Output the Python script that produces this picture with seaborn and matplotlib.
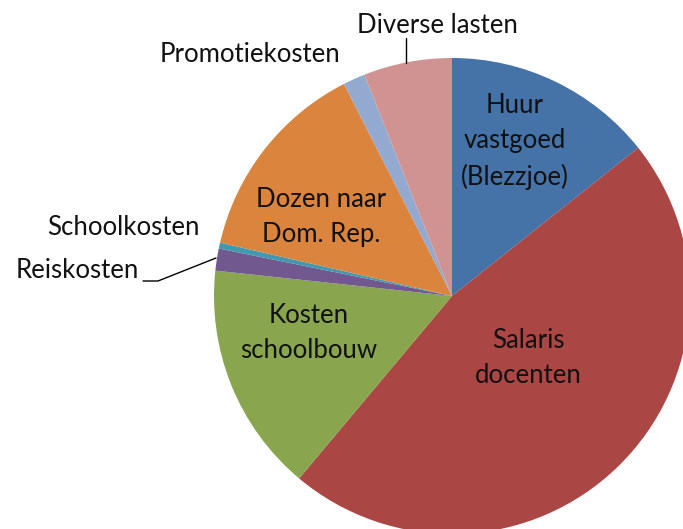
import matplotlib
matplotlib.use('Agg')
import matplotlib.pyplot as plt
import seaborn as sns

# cost categories, clockwise from the top
categories = ['Huur\nvastgoed\n(Blezzjoe)', 'Salaris\ndocenten', 'Kosten\nschoolbouw',
              'Reiskosten', 'Schoolkosten', 'Dozen naar\nDom. Rep.',
              'Promotiekosten', 'Diverse lasten']
shares = [14.3, 46.8, 15.6, 1.5, 0.4, 13.9, 1.5, 6.0]
colors = ['#4572A7', '#AA4643', '#89A54E', '#71588F', '#4198AF', '#DB843D',
          '#93A9CF', '#D19392']

sns.set_theme(style='white')
plt.rcParams['font.family'] = ['Lato', 'DejaVu Sans']

W, H = 683, 529
CX, CY, R = 452, 296, 238   # pie centre and radius in pixels


def px(x, y):
    # pixel position -> data coordinates (pie radius = 1)
    return (x - CX) / R, (CY - y) / R


fig = plt.figure(figsize=(W / 100, H / 100), dpi=100)
ax = fig.add_axes([0, 0, 1, 1])
ax.pie(shares, colors=colors, startangle=90, counterclock=False, radius=1,
       wedgeprops={'linewidth': 0})
ax.set_xlim((0 - CX) / R, (W - CX) / R)
ax.set_ylim((CY - H) / R, CY / R)
ax.set_aspect('auto')
ax.axis('off')

# label baselines (last line) in pixels
label_pos = {
    'Huur\nvastgoed\n(Blezzjoe)': (515, 185),
    'Salaris\ndocenten': (528, 383),
    'Kosten\nschoolbouw': (309, 358),
    'Dozen naar\nDom. Rep.': (321, 242),
    'Reiskosten': (77, 278),
    'Schoolkosten': (123, 235),
    'Promotiekosten': (250, 62),
    'Diverse lasten': (437, 33),
}
for lab in categories:
    x, y = px(*label_pos[lab])
    ax.text(x, y, lab, ha='center', va='baseline', fontsize=18.5,
            color='#111111', linespacing=1.5, multialignment='center')

# leader lines
ax.plot(*zip(px(406, 38), px(406, 63)), color='black', lw=1)
ax.plot(*zip(px(143, 281), px(158, 281), px(216, 258)), color='black', lw=1)

fig.savefig('out.png', dpi=100)
